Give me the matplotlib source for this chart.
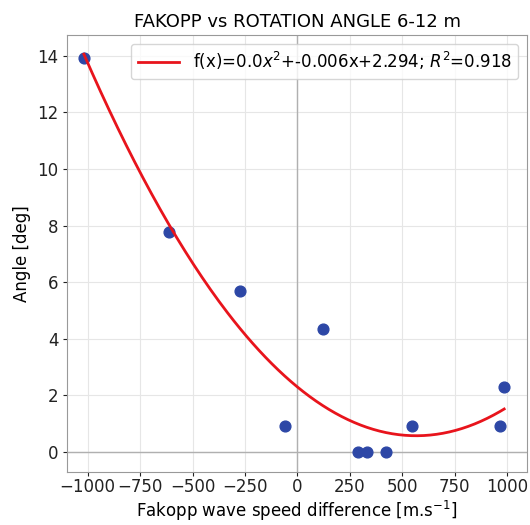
import matplotlib
matplotlib.use("Agg")
import matplotlib.pyplot as plt
import numpy as np

speed_diff = np.array([-1018, -614, -273, -59, 121, 291, 331, 423, 547, 967, 986])
angle = np.array([13.93, 7.77, 5.70, 0.93, 4.34, 0.0, 0.0, 0.0, 0.93, 0.93, 2.31])

coef = np.polyfit(speed_diff, angle, 2)
pred = np.polyval(coef, speed_diff)
r2 = 1 - np.sum((angle - pred) ** 2) / np.sum((angle - angle.mean()) ** 2)
print(coef, r2)

xs = np.linspace(speed_diff.min(), speed_diff.max(), 200)
ys = np.polyval(coef, xs)

fig, ax = plt.subplots(figsize=(5.3, 5.25), dpi=100)
ax.grid(True, color="#e6e6e6", linewidth=0.8)
ax.set_axisbelow(True)
ax.axhline(0, color="#b0b0b0", linewidth=1, zorder=1)
ax.axvline(0, color="#b0b0b0", linewidth=1, zorder=1)
ax.scatter(speed_diff, angle, s=60, color="#2d47a6", zorder=3)
ax.plot(xs, ys, color="#e8141c", linewidth=2, zorder=4,
        label=r"f(x)=0.0$x^2$+-0.006x+2.294; $R^2$=0.918")

ax.set_xlim(-1097, 1094)
ax.set_ylim(-0.7, 14.73)
ax.set_xticks([-1000, -750, -500, -250, 0, 250, 500, 750, 1000])
ax.set_yticks([0, 2, 4, 6, 8, 10, 12, 14])
ax.tick_params(labelsize=12, colors="#222222", length=3)
ax.tick_params(axis="x", pad=1.5)

for s in ax.spines.values():
    s.set_color("#999999")

ax.set_title("FAKOPP vs ROTATION ANGLE 6-12 m", fontsize=13)
ax.set_xlabel(r"Fakopp wave speed difference [m.s$^{-1}$]", fontsize=12, labelpad=2)
ax.set_ylabel("Angle [deg]", fontsize=12)
ax.legend(loc="upper right", fontsize=12, handlelength=2.5)

fig.subplots_adjust(left=0.127, right=0.994, top=0.933, bottom=0.1015)
fig.savefig("out.png")
